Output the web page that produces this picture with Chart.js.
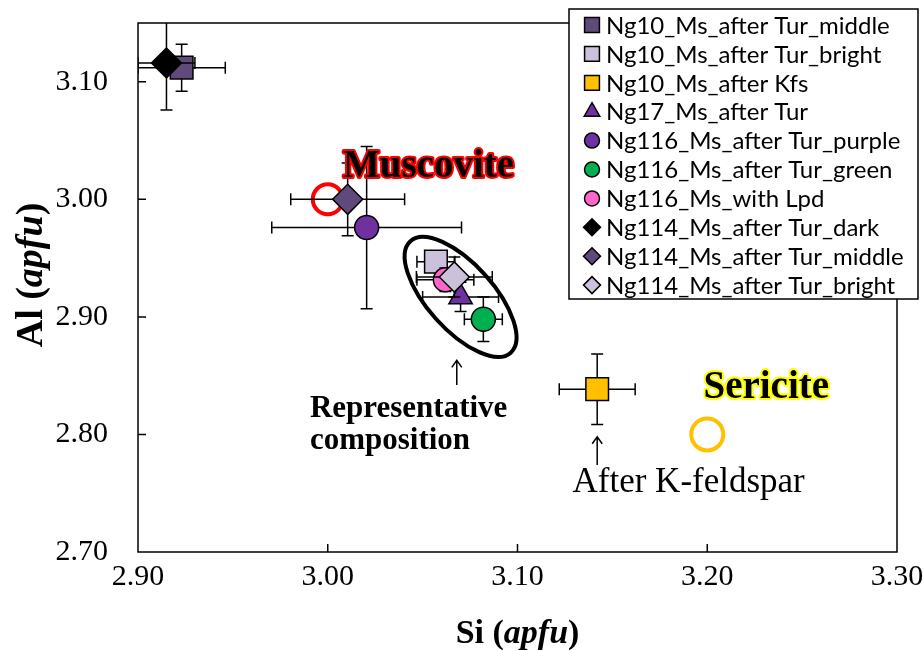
<!DOCTYPE html>
<html>
<head>
<meta charset="utf-8">
<script src="https://cdn.jsdelivr.net/npm/chart.js@4.4.0/dist/chart.umd.min.js"></script>
<style>
    html, body { margin: 0; padding: 0; background: #fff; }
    #wrap { width: 923px; height: 651px; }
</style>
</head>
<body>
<div id="wrap"><canvas id="siAlChart" width="923" height="651"></canvas></div>
<script>
// Données (Si et Al en apfu)
const seriesNames = [
    'Ng10_Ms_after Tur_middle',
    'Ng10_Ms_after Tur_bright',
    'Ng10_Ms_after Kfs',
    'Ng17_Ms_after Tur',
    'Ng116_Ms_after Tur_purple',
    'Ng116_Ms_after Tur_green',
    'Ng116_Ms_with Lpd',
    'Ng114_Ms_after Tur_dark',
    'Ng114_Ms_after Tur_middle',
    'Ng114_Ms_after Tur_bright'
];
const siValues = [2.923, 3.057, 3.142, 3.070, 3.0205, 3.082, 3.062, 2.915, 3.0105, 3.0667];
const alValues = [3.112, 2.947, 2.8385, 2.917, 2.976, 2.898, 2.9315, 3.116, 3.000, 2.934];
const siErrors = [0.023, 0.010, 0.020, 0.020, 0.050, 0.010, 0.015, 0.015, 0.030, 0.020];
const alErrors = [0.020, 0.005, 0.030, 0.0125, 0.069, 0.019, 0.010, 0.040, 0.031, 0.017];

// Compositions de référence
const refNames = ['Muscovite', 'Sericite'];
const refSi = [3.00, 3.20];
const refAl = [3.00, 2.80];

const xTicks = [2.90, 3.00, 3.10, 3.20, 3.30];
const yTicks = [2.70, 2.80, 2.90, 3.00, 3.10];

// Styles des marqueurs
const pointStyles = ['rect', 'rect', 'rect', 'triangle', 'circle', 'circle', 'circle', 'rectRot', 'rectRot', 'rectRot'];
const fillColors = ['#604A7B', '#CCC1DA', '#FFC000', '#7030A0', '#7030A0', '#00B050', '#FF66CC', '#000000', '#604A7B', '#CCC1DA'];
const markerRadius = { rect: 16, triangle: 13.5, circle: 12, rectRot: 15 };
const legendRadius = { rect: 10.5, triangle: 9, circle: 7.5, rectRot: 8.5 };
const refColors = ['#FF0000', '#FFC000'];
const refRadius = [15, 16];

const SERIF = '"Liberation Serif", "Times New Roman", serif';

// Barres d'erreur, dessinées avec chaque série (juste avant ses marqueurs)
const errorBarPlugin = {
    id: 'errorBars',
    beforeDatasetDraw(chart, args) {
        const ds = chart.data.datasets[args.index];
        if (!ds.errors) return;
        const ctx = chart.ctx;
        const xs = chart.scales.x, ys = chart.scales.y;
        const area = chart.chartArea;
        const cap = 6;
        ctx.save();
        ctx.beginPath();
        ctx.rect(area.left, area.top, area.right - area.left, area.bottom - area.top);
        ctx.clip();
        ctx.strokeStyle = '#000';
        ctx.lineWidth = 1.5;
        ds.data.forEach((p, i) => {
            const e = ds.errors[i];
            const cx = xs.getPixelForValue(p.x), cy = ys.getPixelForValue(p.y);
            const x0 = xs.getPixelForValue(p.x - e.x), x1 = xs.getPixelForValue(p.x + e.x);
            const y0 = ys.getPixelForValue(p.y - e.y), y1 = ys.getPixelForValue(p.y + e.y);
            ctx.beginPath();
            ctx.moveTo(x0, cy); ctx.lineTo(x1, cy);
            ctx.moveTo(x0, cy - cap); ctx.lineTo(x0, cy + cap);
            ctx.moveTo(x1, cy - cap); ctx.lineTo(x1, cy + cap);
            ctx.moveTo(cx, y0); ctx.lineTo(cx, y1);
            ctx.moveTo(cx - cap, y0); ctx.lineTo(cx + cap, y0);
            ctx.moveTo(cx - cap, y1); ctx.lineTo(cx + cap, y1);
            ctx.stroke();
        });
        ctx.restore();
    }
};

function drawArrow(ctx, x, yFrom, yTo) {
    ctx.beginPath();
    ctx.moveTo(x, yFrom); ctx.lineTo(x, yTo);
    ctx.moveTo(x - 5, yTo + 7); ctx.lineTo(x, yTo); ctx.lineTo(x + 5, yTo + 7);
    ctx.stroke();
}

function drawGlowText(ctx, text, x, y, glow) {
    ctx.font = 'bold 39px ' + SERIF;
    ctx.textAlign = 'left';
    ctx.textBaseline = 'alphabetic';
    ctx.lineJoin = 'round';
    ctx.lineWidth = 4;
    ctx.strokeStyle = glow;
    ctx.strokeText(text, x, y);
    ctx.fillStyle = '#000';
    ctx.fillText(text, x, y);
}

// Texte composé (gras / gras italique) pour les titres d'axes
function drawTitle(ctx, parts, x, y, rotate, size) {
    ctx.save();
    ctx.translate(x, y);
    if (rotate) ctx.rotate(-Math.PI / 2);
    ctx.textBaseline = 'alphabetic';
    ctx.textAlign = 'left';
    ctx.fillStyle = '#000';
    let total = 0;
    parts.forEach(p => { ctx.font = p[1] + ' ' + size + 'px ' + SERIF; total += ctx.measureText(p[0]).width; });
    let cx = -total / 2;
    parts.forEach(p => {
        ctx.font = p[1] + ' ' + size + 'px ' + SERIF;
        ctx.fillText(p[0], cx, 0);
        cx += ctx.measureText(p[0]).width;
    });
    ctx.restore();
}

// Cadre, graduations intérieures, ellipse et annotations
const decorPlugin = {
    id: 'decor',
    afterDatasetsDraw(chart) {
        const ctx = chart.ctx;
        const xs = chart.scales.x, ys = chart.scales.y;
        const a = chart.chartArea;
        ctx.save();
        ctx.strokeStyle = '#000';
        ctx.lineWidth = 1.5;
        ctx.strokeRect(a.left, a.top, a.right - a.left, a.bottom - a.top);
        ctx.beginPath();
        xTicks.slice(1, -1).forEach(v => {
            const px = xs.getPixelForValue(v);
            ctx.moveTo(px, a.bottom); ctx.lineTo(px, a.bottom - 8);
        });
        yTicks.slice(1).forEach(v => {
            const py = ys.getPixelForValue(v);
            ctx.moveTo(a.left, py); ctx.lineTo(a.left + 8, py);
        });
        ctx.stroke();

        // Ellipse autour de la composition représentative
        ctx.lineWidth = 4;
        ctx.beginPath();
        ctx.ellipse(xs.getPixelForValue(3.070), ys.getPixelForValue(2.917), 75, 33, 48 * Math.PI / 180, 0, Math.PI * 2);
        ctx.stroke();

        // Flèches
        ctx.lineWidth = 1.5;
        drawArrow(ctx, xs.getPixelForValue(3.068), ys.getPixelForValue(2.842), ys.getPixelForValue(2.863));
        drawArrow(ctx, xs.getPixelForValue(3.142), ys.getPixelForValue(2.774), ys.getPixelForValue(2.798));

        // Étiquettes
        drawGlowText(ctx, refNames[0], xs.getPixelForValue(3.008), ys.getPixelForValue(3.019), '#FF0000');
        drawGlowText(ctx, refNames[1], xs.getPixelForValue(3.198), ys.getPixelForValue(2.831), '#FFFF00');

        ctx.fillStyle = '#000';
        ctx.textAlign = 'left';
        ctx.textBaseline = 'alphabetic';
        ctx.font = 'bold 31px ' + SERIF;
        ctx.fillText('Representative', xs.getPixelForValue(2.9906), ys.getPixelForValue(2.815));
        ctx.fillText('composition', xs.getPixelForValue(2.9906), ys.getPixelForValue(2.7877));
        ctx.font = '35px ' + SERIF;
        ctx.fillText('After K-feldspar', xs.getPixelForValue(3.129), ys.getPixelForValue(2.751));
        ctx.restore();
    },
    afterDraw(chart) {
        const ctx = chart.ctx;
        // Titres d'axes
        drawTitle(ctx, [['Si (', 'bold'], ['apfu', 'italic bold'], [')', 'bold']], (chart.chartArea.left + chart.chartArea.right) / 2, 643, false, 34);
        drawTitle(ctx, [['Al (', 'bold'], ['apfu', 'italic bold'], [')', 'bold']], 42, 275, true, 38);

        // Légende encadrée
        const box = { left: 569, top: 9, right: 918, bottom: 299 };
        ctx.save();
        ctx.fillStyle = '#fff';
        ctx.fillRect(box.left, box.top, box.right - box.left, box.bottom - box.top);
        ctx.strokeStyle = '#000';
        ctx.lineWidth = 1.5;
        ctx.strokeRect(box.left, box.top, box.right - box.left, box.bottom - box.top);
        ctx.font = '24px Lato, "Noto Sans", sans-serif';
        ctx.textBaseline = 'middle';
        ctx.textAlign = 'left';
        const rowH = 28.9;
        seriesNames.forEach((name, i) => {
            const y = box.top + 16 + i * rowH;
            ctx.fillStyle = fillColors[i];
            ctx.strokeStyle = '#000';
            ctx.lineWidth = 1.5;
            Chart.helpers.drawPoint(ctx, { pointStyle: pointStyles[i], radius: legendRadius[pointStyles[i]], rotation: 0, borderWidth: 1.5 }, 592, y);
            ctx.fillStyle = '#000';
            ctx.fillText(name, 606, y + 1);
        });
        ctx.restore();
    }
};

const datasets = [];
refNames.forEach((name, i) => {
    datasets.push({
        label: name,
        data: [{ x: refSi[i], y: refAl[i] }],
        pointStyle: 'circle',
        pointRadius: refRadius[i],
        backgroundColor: 'rgba(255,255,255,0)',
        borderColor: refColors[i],
        borderWidth: 4,
        order: 100 - i
    });
});
seriesNames.forEach((name, i) => {
    datasets.push({
        label: name,
        data: [{ x: siValues[i], y: alValues[i] }],
        errors: [{ x: siErrors[i], y: alErrors[i] }],
        pointStyle: pointStyles[i],
        pointRadius: markerRadius[pointStyles[i]],
        backgroundColor: fillColors[i],
        borderColor: '#000',
        borderWidth: 1.5,
        order: 90 - i
    });
});

const tickFont = { family: SERIF, size: 30 };

new Chart(document.getElementById('siAlChart'), {
    type: 'scatter',
    data: { datasets: datasets },
    options: {
        responsive: false,
        devicePixelRatio: 1,
        animation: false,
        events: [],
        layout: { padding: { top: 23, right: 26, left: 0, bottom: 0 } },
        plugins: {
            legend: { display: false },
            tooltip: { enabled: false }
        },
        scales: {
            x: {
                type: 'linear',
                min: 2.9,
                max: 3.3,
                afterBuildTicks: (scale) => { scale.ticks = xTicks.map(v => ({ value: v })); },
                afterFit: (scale) => { scale.height = 99; scale.paddingLeft = 0; scale.paddingRight = 0; },
                ticks: { color: '#000', font: tickFont, padding: 7, callback: (v) => Number(v).toFixed(2) },
                grid: { display: false, drawTicks: false },
                border: { display: false }
            },
            y: {
                type: 'linear',
                min: 2.7,
                max: 3.15,
                afterBuildTicks: (scale) => { scale.ticks = yTicks.map(v => ({ value: v })); },
                afterFit: (scale) => { scale.width = 138; scale.paddingTop = 0; scale.paddingBottom = 0; },
                ticks: { color: '#000', font: tickFont, padding: 30, callback: (v) => Number(v).toFixed(2) },
                grid: { display: false, drawTicks: false },
                border: { display: false }
            }
        }
    },
    plugins: [errorBarPlugin, decorPlugin]
});
</script>
</body>
</html>
